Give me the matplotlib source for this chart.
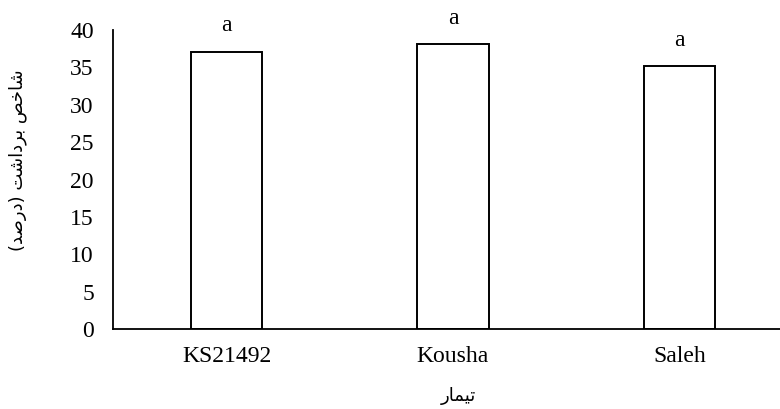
import matplotlib
matplotlib.use("Agg")
import matplotlib.pyplot as plt

categories = ["KS21492", "Kousha", "Saleh"]
values = [37.1, 38.1, 35.2]
letters = ["a", "a", "a"]
yticks = [0, 5, 10, 15, 20, 25, 30, 35, 40]

# Persian labels, written in visual order with Arabic presentation forms
# (matplotlib does not do Arabic shaping / bidi itself)
ylabel_text = ("(\uFEAA\uFEBB\uFEAD\uFEA9) "
               "\uFE96\uFEB7\uFE8D\uFEA9\uFEAE\uFE91 "
               "\uFEBA\uFEA7\uFE8E\uFEB7")   # شاخص برداشت (درصد)
xlabel_text = "\uFEAD\uFE8E\uFEE4\uFEF4\uFE97"  # تیمار

serif = ["Liberation Serif", "DejaVu Serif"]
arabic = ["DejaVu Sans"]

fig = plt.figure(figsize=(7.8, 4.09), dpi=100)
ax = fig.add_axes([113.3 / 780, 1 - 329 / 409, 679.2 / 780, 299 / 409])

x = list(range(len(categories)))
bars = ax.bar(x, values, width=0.316, color="white", edgecolor="black",
              linewidth=1.4, zorder=2)

for xi, v, lab in zip(x, values, letters):
    ax.annotate(lab, (xi, v), xytext=(0, 11), textcoords="offset points",
                ha="center", va="bottom", fontsize=17, family=serif)

ax.set_xlim(-0.5, 2.5)
ax.set_ylim(0, 40)
ax.set_yticks(yticks)
ax.set_yticklabels([str(t) for t in yticks], family=serif, fontsize=17)
ax.set_xticks(x)
ax.set_xticklabels(categories, family=serif, fontsize=17)
ax.tick_params(axis="both", length=0)
ax.tick_params(axis="y", pad=14)
ax.tick_params(axis="x", pad=12)

for s in ["top", "right"]:
    ax.spines[s].set_visible(False)
for s in ["left", "bottom"]:
    ax.spines[s].set_linewidth(1.3)
    ax.spines[s].set_color("black")

ax.set_ylabel(ylabel_text, family=arabic, fontsize=13, va="center")
ax.yaxis.set_label_coords((17.5 - 113.3) / 679.2, (329 - 160) / 299)
ax.set_xlabel(xlabel_text, family=arabic, fontsize=13, va="center")
ax.xaxis.set_label_coords((458 - 113.3) / 679.2, (329 - 396) / 299)

fig.savefig("out.png", dpi=100)
